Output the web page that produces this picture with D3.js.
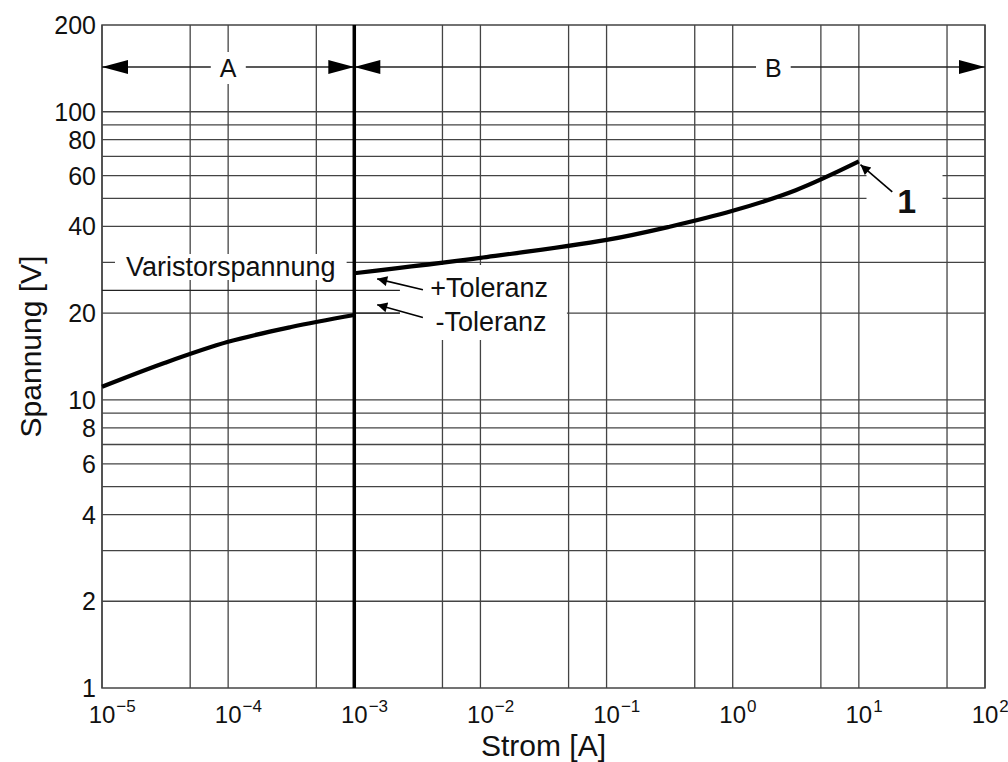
<!DOCTYPE html>
<html lang="de">
<head>
<meta charset="UTF-8">
<script src="https://cdnjs.cloudflare.com/ajax/libs/d3/7.8.5/d3.min.js"></script>
<style>
  body { margin: 0; background: #fff; }
  svg { display: block; }
  text { font-family: "Liberation Sans", Arial, Helvetica, sans-serif; fill: #111; }
</style>
</head>
<body>
<svg id="chart" width="1008" height="762"></svg>
<script>
// Kennlinie
var currentLow = [1e-5, 3.16e-5, 1e-4, 3.16e-4, 1e-3];
var voltageLow = [11.1, 13.45, 15.9, 17.9, 19.7];
var currentHigh = [1e-3, 1e-2, 1e-1, 0.316, 1, 3.16, 10];
var voltageHigh = [27.5, 31.1, 35.9, 39.9, 45.3, 53.4, 67.2];

var xTickExp = [-5, -4, -3, -2, -1, 0, 1, 2];
var xGrid = [1e-5, 5e-5, 1e-4, 5e-4, 1e-3, 5e-3, 1e-2, 5e-2, 1e-1, 5e-1, 1, 5, 10, 50, 100];
var yTickLabels = [1, 2, 4, 6, 8, 10, 20, 40, 60, 80, 100, 200];
var yGrid = [2, 3, 4, 5, 6, 7, 8, 9, 10, 20, 30, 40, 50, 60, 70, 80, 90, 100];

var varistorVoltage = 24;
var regionSplit = 1e-3;

var svg = d3.select("#chart");
var mLeft = 102, mRight = 985, mTop = 25, mBottom = 688;

var x = d3.scaleLog().domain([1e-5, 100]).range([mLeft, mRight]);
var y = d3.scaleLog().domain([1, 200]).range([mBottom, mTop]);

var gridColor = "#444";

// Gitter
svg.append("g").selectAll("line").data(xGrid).join("line")
    .attr("x1", d => x(d)).attr("x2", d => x(d))
    .attr("y1", mTop).attr("y2", mBottom)
    .attr("stroke", gridColor).attr("stroke-width", 1.3);
svg.append("g").selectAll("line").data(yGrid).join("line")
    .attr("x1", mLeft).attr("x2", mRight)
    .attr("y1", d => y(d)).attr("y2", d => y(d))
    .attr("stroke", gridColor).attr("stroke-width", 1.3);

// Rahmen
svg.append("rect").attr("x", mLeft).attr("y", mTop)
    .attr("width", mRight - mLeft).attr("height", mBottom - mTop)
    .attr("fill", "none").attr("stroke", gridColor).attr("stroke-width", 1.5);

// Bereichspfeile A / B
var arrowY = 67;
svg.append("line").attr("x1", mLeft).attr("x2", mRight)
    .attr("y1", arrowY).attr("y2", arrowY)
    .attr("stroke", "#222").attr("stroke-width", 1.3);

function head(tipX, dir) {
    var len = 26, hw = 7;
    return "M" + tipX + "," + arrowY + "L" + (tipX - dir * len) + "," + (arrowY - hw) +
        "L" + (tipX - dir * len) + "," + (arrowY + hw) + "Z";
}
[[x(1e-5), -1], [x(regionSplit), 1], [x(regionSplit), -1], [x(100), 1]].forEach(function (h) {
    svg.append("path").attr("d", head(h[0], h[1])).attr("fill", "#000");
});

// weiße Hintergründe für Beschriftungen
var bg = svg.append("g");
var labels = svg.append("g");

function label(txt, px, py, size, anchor, weight, padX, padY) {
    var t = labels.append("text").attr("x", px).attr("y", py)
        .attr("font-size", size).attr("text-anchor", anchor || "start")
        .attr("dominant-baseline", "central")
        .attr("font-weight", weight || "normal").text(txt);
    var b = t.node().getBBox();
    bg.append("rect").attr("x", b.x - padX).attr("y", b.y - padY)
        .attr("width", b.width + 2 * padX).attr("height", b.height + 2 * padY)
        .attr("fill", "#fff");
    return t;
}

label("A", x(1e-4), arrowY + 1, 25, "middle", null, 9, 2);
label("B", x(2.1), arrowY + 1, 25, "middle", null, 9, 2);
label("Varistorspannung", x(1.05e-4), 267, 27, "middle", null, 11, -2);
// Block für Toleranz-Beschriftung
bg.append("rect").attr("x", x(2.3e-3)).attr("y", 265)
    .attr("width", 167).attr("height", 75).attr("fill", "#fff");
label("+Toleranz", x(4e-3), 288, 27, "start", null, 0, 0);
label("-Toleranz", x(4.4e-3), 322, 27, "start", null, 0, 0);
bg.append("rect").attr("x", x(11.5)).attr("y", 168)
    .attr("width", 76).attr("height", 57).attr("fill", "#fff");
label("1", x(24), 201, 34, "middle", "bold", 0, 0);

// Varistorspannung-Linie
svg.append("line").attr("x1", x(1e-5)).attr("x2", x(2.3e-3))
    .attr("y1", y(varistorVoltage)).attr("y2", y(varistorVoltage))
    .attr("stroke", "#222").attr("stroke-width", 1.3);
// -Toleranz-Linie (bis zur Beschriftung)
svg.append("line").attr("x1", x(regionSplit)).attr("x2", x(2.3e-3))
    .attr("y1", y(20)).attr("y2", y(20))
    .attr("stroke", "#222").attr("stroke-width", 1.3);

// Grenze A/B
svg.append("line").attr("x1", x(regionSplit)).attr("x2", x(regionSplit))
    .attr("y1", mTop).attr("y2", mBottom)
    .attr("stroke", "#000").attr("stroke-width", 3.5);

// Kennlinie
var line = d3.line().x(d => x(d[0])).y(d => y(d[1])).curve(d3.curveCatmullRom.alpha(0.5));
svg.append("path").datum(d3.zip(currentLow, voltageLow))
    .attr("d", line).attr("fill", "none").attr("stroke", "#000").attr("stroke-width", 4.2);
svg.append("path").datum(d3.zip(currentHigh, voltageHigh))
    .attr("d", line).attr("fill", "none").attr("stroke", "#000").attr("stroke-width", 4.2);

// Hinweispfeile
var defs = svg.append("defs");
defs.append("marker").attr("id", "tip").attr("viewBox", "0 0 10 10")
    .attr("refX", 10).attr("refY", 5).attr("markerWidth", 15).attr("markerHeight", 10)
    .attr("markerUnits", "userSpaceOnUse").attr("orient", "auto")
    .append("path").attr("d", "M0,0L10,5L0,10Z").attr("fill", "#000");

var pointers = [
    [[3.5e-3, 24.1], [1.52e-3, 26.3]],
    [[3.5e-3, 19.3], [1.52e-3, 21.4]],
    [[18.4, 52.7], [10.3, 65.5]]
];
svg.append("g").selectAll("line").data(pointers).join("line")
    .attr("x1", d => x(d[0][0])).attr("y1", d => y(d[0][1]))
    .attr("x2", d => x(d[1][0])).attr("y2", d => y(d[1][1]))
    .attr("stroke", "#000").attr("stroke-width", 1.6)
    .attr("marker-end", "url(#tip)");

// Achsenbeschriftung Y
svg.append("g").selectAll("text").data(yTickLabels).join("text")
    .attr("x", mLeft - 6).attr("y", d => y(d))
    .attr("text-anchor", "end").attr("dominant-baseline", "central")
    .attr("font-size", 25).text(d => d);

// Achsenbeschriftung X (10 mit Exponent)
var xt = svg.append("g").selectAll("g").data(xTickExp).join("g");
xt.each(function (e) {
    var g = d3.select(this);
    var t = g.append("text").attr("y", 723).attr("font-size", 24);
    t.append("tspan").text("10");
    t.append("tspan").attr("font-size", 17).attr("dy", -11).attr("dx", 1)
        .text(e < 0 ? "\u2212" + (-e) : String(e));
    var w10 = t.select("tspan").node().getComputedTextLength();
    t.attr("x", x(Math.pow(10, e)) - w10 / 2);
});

svg.append("text").attr("x", (mLeft + mRight) / 2).attr("y", 745)
    .attr("text-anchor", "middle").attr("dominant-baseline", "central")
    .attr("font-size", 30).text("Strom [A]");
svg.append("text")
    .attr("transform", "translate(30," + ((mTop + mBottom) / 2 - 10) + ") rotate(-90)")
    .attr("text-anchor", "middle").attr("dominant-baseline", "central")
    .attr("font-size", 30).text("Spannung [V]");
</script>
</body>
</html>
